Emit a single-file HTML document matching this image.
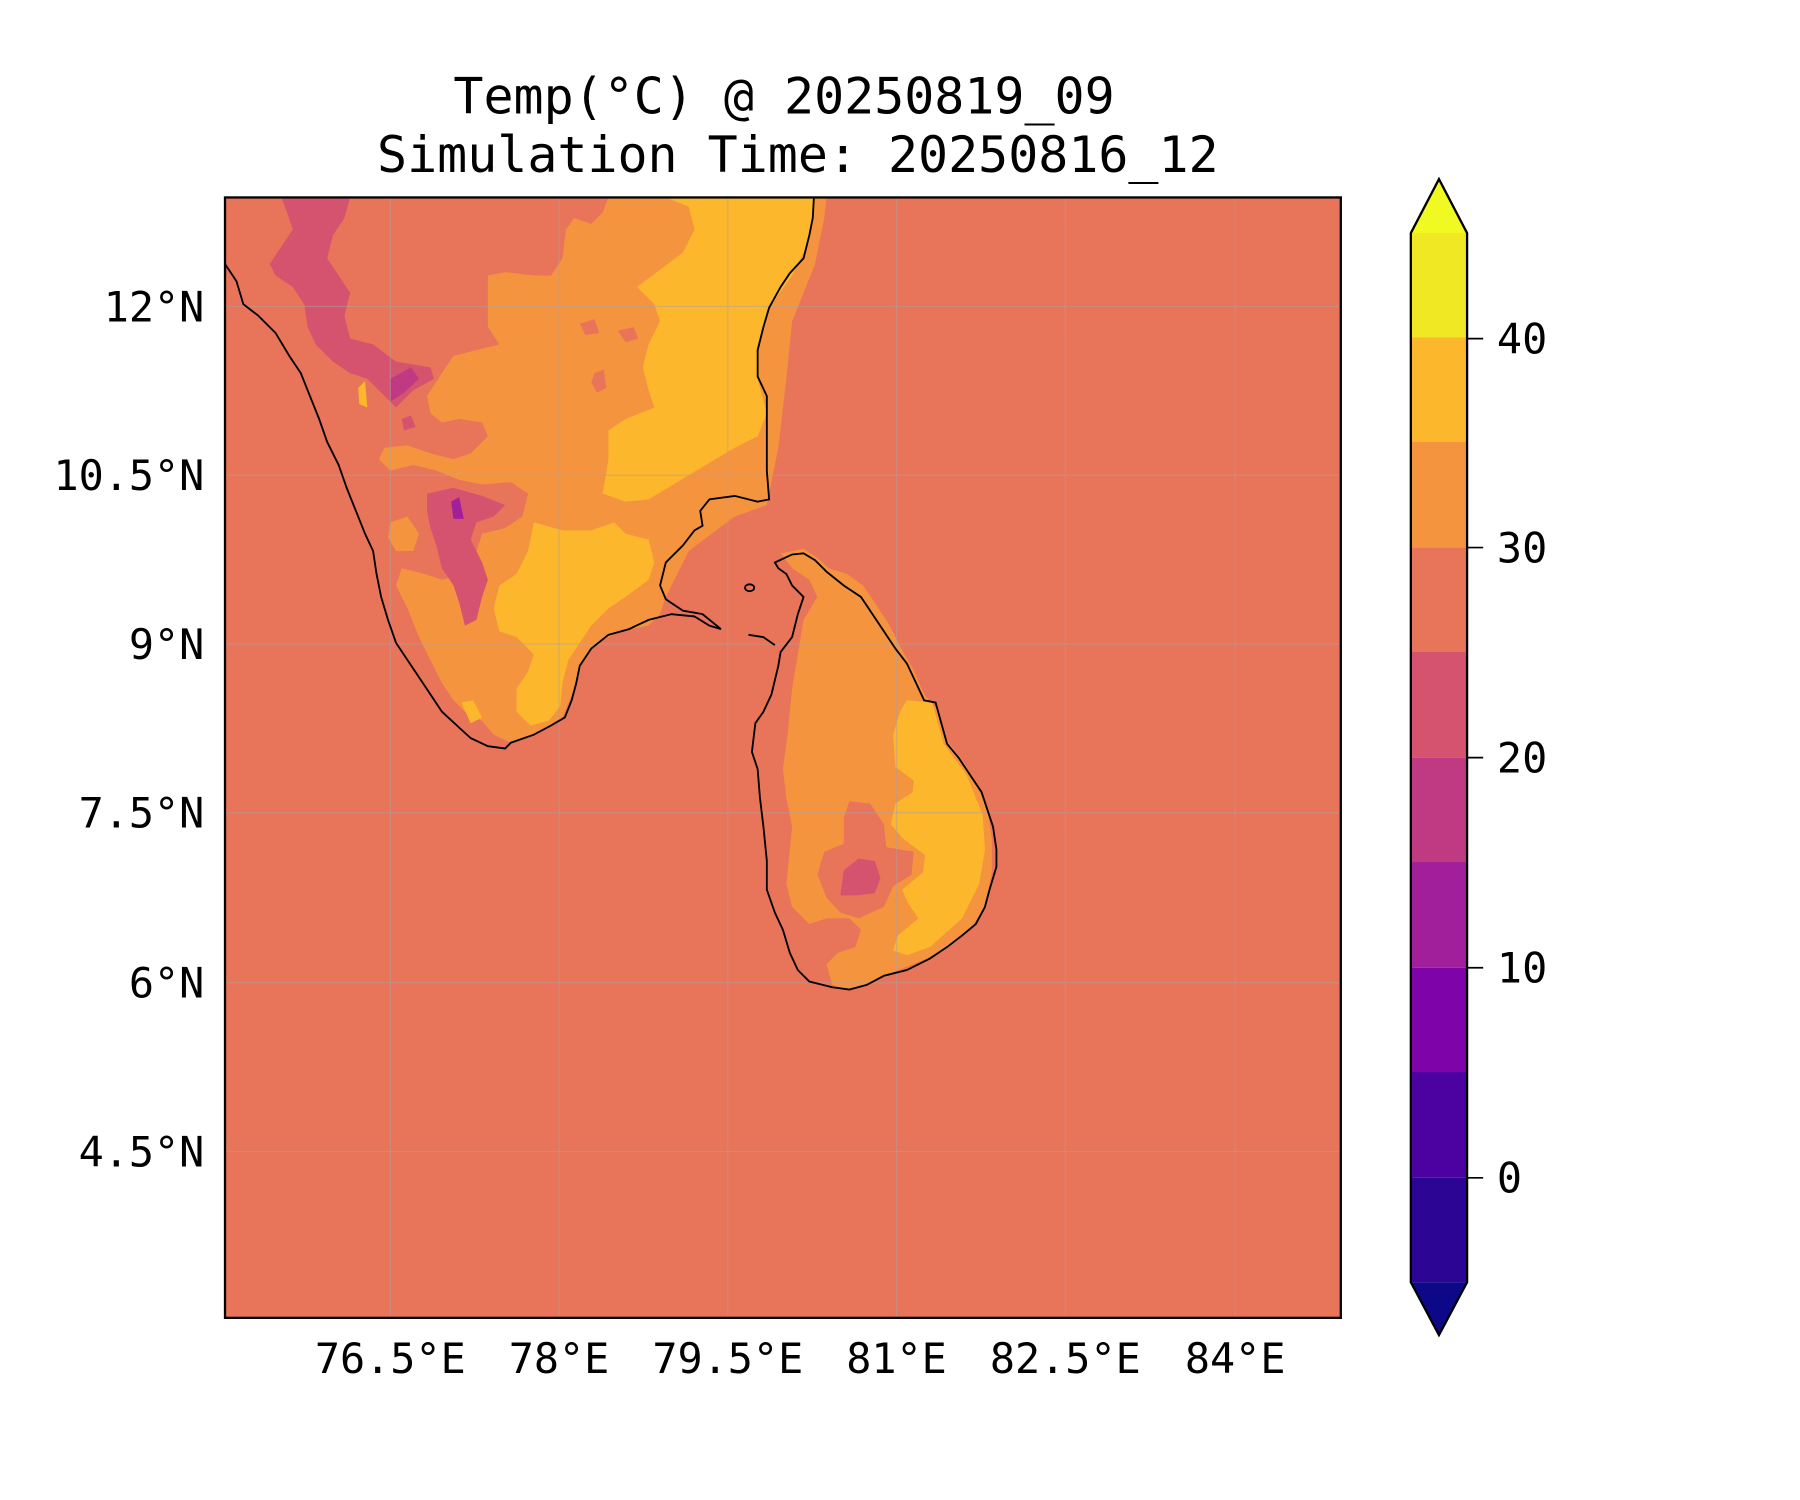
<!DOCTYPE html>
<html><head><meta charset="utf-8"><style>
html,body{margin:0;padding:0;background:#fff;}
svg{display:block;}
text{font-family:"DejaVu Sans Mono","Liberation Mono",monospace;fill:#000;}
</style></head><body>
<svg width="1800" height="1500" viewBox="0 0 1568 1306.67" xmlns="http://www.w3.org/2000/svg">
<rect width="1568" height="1306.67" fill="#fff"/>
<text x="683" y="99" font-size="43.5" text-anchor="middle">Temp(°C) @ 20250819_09</text>
<text x="695" y="150" font-size="43.5" text-anchor="middle">Simulation Time: 20250816_12</text>
<defs><clipPath id="c"><rect x="196" y="172" width="972" height="976"/></clipPath></defs>
<g clip-path="url(#c)">
<rect x="196" y="172" width="972" height="976" fill="#e8745a"/>
<polygon fill="#f5943f" points="530,172 525,185 515,195 500,190 493,200 490,225 480,240 465,240 440,237 425,240 425,285 435,300 415,305 395,310 385,325 372,345 375,360 385,368 400,365 420,368 425,380 410,395 395,400 375,395 355,388 335,390 330,400 340,410 360,405 380,410 400,418 420,422 445,420 460,430 455,450 440,460 420,465 415,480 405,500 385,505 370,500 350,495 345,510 355,530 365,555 375,575 385,595 395,610 405,620 420,628 430,640 445,647 465,640 490,625 500,600 505,580 520,560 540,550 565,545 575,535 580,520 600,480 640,450 668,440 672,420 678,390 685,330 690,280 700,255 710,230 718,190 720,172"/>
<polygon fill="#f5943f" points="340,455 355,450 365,465 360,480 345,480 338,468"/>
<polygon fill="#e8745a" points="505,282 518,278 522,290 510,292"/>
<polygon fill="#e8745a" points="538,288 552,285 556,295 545,298"/>
<polygon fill="#e8745a" points="518,325 526,322 528,338 520,342 515,333"/>
<polygon fill="#fcb72c" points="580,172 600,180 605,200 595,220 575,235 555,250 570,265 575,280 565,300 560,320 565,340 570,355 545,365 530,375 530,400 525,430 545,437 565,435 590,420 615,405 640,390 660,380 668,360 660,330 660,300 670,268 690,240 705,210 709,172"/>
<polygon fill="#fcb72c" points="465,455 490,462 515,462 535,455 545,465 565,470 570,490 565,505 545,520 530,530 515,545 505,560 495,575 490,595 488,615 478,628 462,632 450,620 450,600 460,585 465,570 450,555 435,550 430,530 435,510 450,500 460,480"/>
<polygon fill="#fcb72c" points="312,338 318,332 320,355 313,352"/>
<polygon fill="#fcb72c" points="402,612 412,610 420,625 410,630"/>
<polygon fill="#d5536f" points="245,172 305,172 300,190 290,205 285,225 295,240 305,255 300,275 305,295 325,300 345,315 375,320 378,330 360,340 345,355 335,345 320,330 305,325 290,315 275,300 268,285 265,265 255,250 240,240 235,230 245,215 255,200 250,185"/>
<polygon fill="#d5536f" points="372,430 395,425 420,432 440,440 430,450 415,455 410,470 420,490 425,505 420,520 415,540 405,545 400,525 395,510 385,495 380,475 375,460 372,445"/>
<polygon fill="#d5536f" points="350,365 358,362 362,372 352,375"/>
<polygon fill="#c03a83" points="340,330 358,320 365,330 352,342 340,350"/>
<polygon fill="#a21f9b" points="393,437 400,433 404,452 395,452"/>
<polygon fill="#f5943f" points="680,482 700,478 712,486 722,495 738,500 752,510 762,525 775,545 785,565 795,582 805,605 818,620 825,645 840,665 852,685 860,705 864,730 864,760 858,790 845,810 820,830 790,842 770,850 755,858 740,862 725,858 720,840 730,830 745,825 750,810 740,800 720,800 705,805 690,790 685,770 688,740 690,720 685,695 682,670 686,640 690,600 695,570 700,540 712,520 705,505 690,495"/>
<polygon fill="#fcb72c" points="790,610 812,612 822,648 842,675 856,710 858,740 853,770 838,800 810,825 790,832 778,828 782,815 800,800 790,785 786,775 804,760 806,745 786,730 776,718 780,700 795,690 796,680 780,668 778,640 784,620"/>
<polygon fill="#e8745a" points="740,698 758,700 770,718 772,738 796,742 794,762 778,772 770,790 748,800 732,795 720,782 712,762 718,742 735,735 735,712"/>
<polygon fill="#d5536f" points="735,758 748,748 762,750 767,765 762,778 747,780 732,780"/>
</g>
<g stroke="#b0a0a0" stroke-opacity="0.5" stroke-width="1">
<line x1="340" y1="172" x2="340" y2="1148"/><line x1="487" y1="172" x2="487" y2="1148"/><line x1="634" y1="172" x2="634" y2="1148"/><line x1="781" y1="172" x2="781" y2="1148"/><line x1="928" y1="172" x2="928" y2="1148"/><line x1="1076" y1="172" x2="1076" y2="1148"/>
<line x1="196" y1="267" x2="1168" y2="267"/><line x1="196" y1="414" x2="1168" y2="414"/><line x1="196" y1="561" x2="1168" y2="561"/><line x1="196" y1="708" x2="1168" y2="708"/><line x1="196" y1="856" x2="1168" y2="856"/><line x1="196" y1="1003" x2="1168" y2="1003"/>
</g>
<g fill="none" stroke="#000" stroke-width="1.6" clip-path="url(#c)">
<polyline points="196,230 206,245 212,265 225,275 240,290 252,310 262,325 270,345 278,365 285,385 295,405 302,425 310,445 318,465 325,480 328,500 332,520 338,540 345,560 355,575 365,590 375,605 385,620 398,632 410,643 425,650 440,652 445,647 465,640 480,632 492,625 498,610 502,595 505,580 515,565 530,553 548,548 565,540 585,535 605,537 618,545 628,548 612,535 595,532 580,522 575,510 580,490 595,475 605,462 612,458 610,445 618,435 640,432 660,437 670,435 668,410 668,390 668,345 660,328 660,305 665,285 670,268 680,250 688,238 700,225 705,205 708,190 709,172"/>
<polygon points="675,490 690,483 700,482 710,488 720,498 735,510 750,520 760,535 770,550 780,565 790,578 798,595 805,610 815,612 820,630 825,648 835,660 845,675 855,690 860,705 865,720 868,740 868,755 862,775 858,790 850,805 838,815 825,825 810,835 790,845 770,850 755,858 740,862 725,860 705,855 695,845 688,830 682,810 675,795 668,775 668,750 665,720 662,695 660,670 655,655 658,630 665,620 672,605 678,580 680,568 690,555 695,535 700,520 690,510 685,500 678,495"/>
<polyline points="652,553 665,555 675,562"/>
<ellipse cx="653" cy="512" rx="4" ry="3"/>
</g>
<rect x="196" y="172" width="972" height="976" fill="none" stroke="#000" stroke-width="2"/>
<g font-size="36.4" text-anchor="end">
<text x="178" y="280">12°N</text><text x="178" y="427">10.5°N</text><text x="178" y="574">9°N</text><text x="178" y="721">7.5°N</text><text x="178" y="869">6°N</text><text x="178" y="1016">4.5°N</text>
</g>
<g font-size="36.4" text-anchor="middle">
<text x="340" y="1196">76.5°E</text><text x="487" y="1196">78°E</text><text x="634" y="1196">79.5°E</text><text x="781" y="1196">81°E</text><text x="928" y="1196">82.5°E</text><text x="1076" y="1196">84°E</text>
</g>
<polygon points="1229,203 1253.5,156 1278,203" fill="#f0f921"/>
<rect x="1229" y="203" width="49" height="92" fill="#f1e824"/>
<rect x="1229" y="294" width="49" height="92" fill="#fcb72c"/>
<rect x="1229" y="385" width="49" height="92" fill="#f5943f"/>
<rect x="1229" y="477" width="49" height="92" fill="#e8745a"/>
<rect x="1229" y="568" width="49" height="92" fill="#d5536f"/>
<rect x="1229" y="660" width="49" height="92" fill="#c03a83"/>
<rect x="1229" y="751" width="49" height="92" fill="#a21f9b"/>
<rect x="1229" y="843" width="49" height="92" fill="#7e03a8"/>
<rect x="1229" y="934" width="49" height="92" fill="#4c02a1"/>
<rect x="1229" y="1026" width="49" height="91" fill="#2c0594"/>
<polygon points="1229,1117 1253.5,1163 1278,1117" fill="#0d0887"/>
<polygon points="1229,203 1253.5,156 1278,203 1278,1117 1253.5,1163 1229,1117" fill="none" stroke="#000" stroke-width="2"/>
<g stroke="#000" stroke-width="1.5">
<line x1="1278" y1="295" x2="1292" y2="295"/><line x1="1278" y1="477" x2="1292" y2="477"/><line x1="1278" y1="660" x2="1292" y2="660"/><line x1="1278" y1="843" x2="1292" y2="843"/><line x1="1278" y1="1026" x2="1292" y2="1026"/>
</g>
<g font-size="36.4">
<text x="1304" y="308">40</text><text x="1304" y="490">30</text><text x="1304" y="673">20</text><text x="1304" y="856">10</text><text x="1304" y="1039">0</text>
</g>
</svg>
</body></html>
